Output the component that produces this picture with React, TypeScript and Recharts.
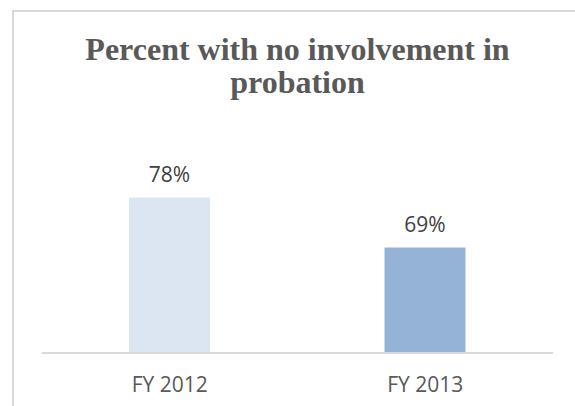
import { BarChart, Bar, XAxis, YAxis, Cell, LabelList } from 'recharts';

const CATEGORIES = ['FY 2012', 'FY 2013'];
const VALUES = [0.78, 0.69];
const BAR_COLORS = ['#dce6f2', '#95b3d7'];
const TITLE_LINES = ['Percent with no involvement in', 'probation'];

const data = CATEGORIES.map((name, i) => ({ name, value: VALUES[i] }));

const sans = '"Open Sans", sans-serif';

export default function App() {
  return (
    <div
      style={{
        position: 'absolute',
        left: 0,
        top: 0,
        width: 575,
        height: 406,
        overflow: 'hidden',
        background: '#fff',
      }}
    >
      {/* chart frame: only the left and top edges are visible */}
      <div
        style={{
          position: 'absolute',
          left: 12,
          top: 10,
          width: 700,
          height: 500,
          borderLeft: '2px solid #d9d9d9',
          borderTop: '2px solid #d9d9d9',
        }}
      />
      <BarChart
        width={575}
        height={406}
        data={data}
        margin={{ top: 131, right: 22, bottom: 0, left: 42 }}
        style={{ position: 'absolute', left: 0, top: 0 }}
      >
        <XAxis
          dataKey="name"
          height={53}
          tickLine={false}
          axisLine={{ stroke: '#d9d9d9', strokeWidth: 2 }}
          tick={{ fill: '#595959', fontSize: 21, fontFamily: sans }}
          tickMargin={18}
        />
        <YAxis hide domain={[0.5, 0.9]} />
        <Bar dataKey="value" barSize={81} isAnimationActive={false}>
          {data.map((d, i) => (
            <Cell key={d.name} fill={BAR_COLORS[i]} />
          ))}
          <LabelList
            dataKey="value"
            position="top"
            offset={16}
            formatter={(v: any) => `${Math.round(Number(v) * 100)}%`}
            style={{ fill: '#404040', fontSize: 21, fontFamily: sans }}
          />
        </Bar>
      </BarChart>
      <svg
        width={575}
        height={120}
        style={{ position: 'absolute', left: 0, top: 0, pointerEvents: 'none' }}
      >
        {TITLE_LINES.map((line, i) => (
          <text
            key={line}
            x={297.5}
            y={60 + i * 33}
            textAnchor="middle"
            fill="#595959"
            fontFamily='"Liberation Serif", serif'
            fontWeight="bold"
            fontSize={32}
          >
            {line}
          </text>
        ))}
      </svg>
    </div>
  );
}
